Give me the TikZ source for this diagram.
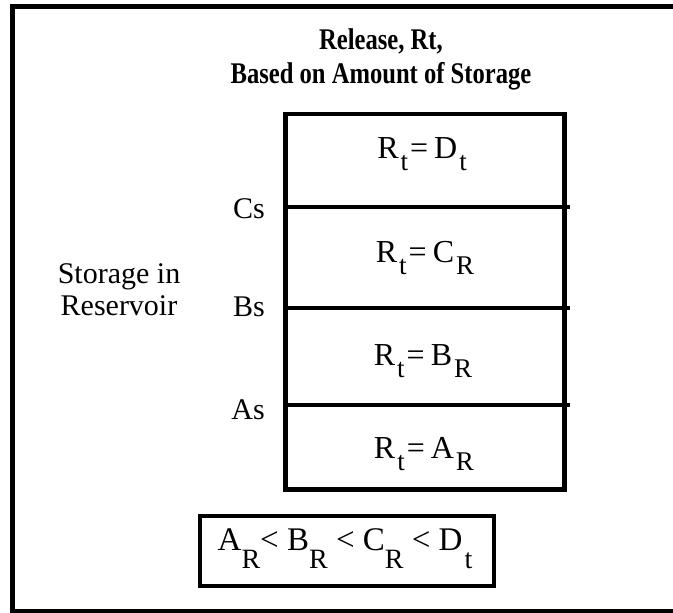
\documentclass[tikz,border=0pt]{standalone}
\usepackage{fontspec}
\setmainfont{Liberation Serif}
\newfontfamily\titlefont[FakeStretch=0.82]{Liberation Serif}
\newcommand{\lowsub}[1]{\kern2pt\raisebox{-12pt}{\fontsize{27}{27}\selectfont #1}}
\newcommand{\deepsub}[1]{\raisebox{-18pt}{\fontsize{28}{28}\selectfont #1}}
\tikzset{
  lvl/.style={anchor=base east, inner sep=0pt, font=\fontsize{30}{32}\selectfont},
  rel/.style={anchor=base, inner sep=0pt, font=\fontsize{32}{34}\selectfont},
  divline/.style={line width=4.5pt},
}

\begin{document}
\begin{tikzpicture}[x=1pt, y=-1pt]
    \useasboundingbox (0,0) rectangle (673,613);
    % Outer frame (right side falls off the page)
    \draw[line width=5pt] (680,6) -- (12,6) -- (12,611) -- (680,611);
    % Title
    \node[align=center, font=\titlefont\bfseries\fontsize{30}{34}\selectfont] (title) at (381,59) {Release, Rt,\\Based on Amount of Storage};
    % Storage column
    \node[draw, line width=4.5pt, minimum width=279pt, minimum height=375.5pt, inner sep=0pt] (store) at (425,301.75) {};
    \coordinate (cs) at (285.5,207);
    \coordinate (bs) at (285.5,308);
    \coordinate (as) at (285.5,405);
    \draw[divline] (cs) -- ++(284,0);
    \draw[divline] (bs) -- ++(284,0);
    \draw[divline] (as) -- ++(284,0);
    % Level labels
    \node[lvl] (cslbl) at (265,218) {Cs};
    \node[lvl] (bslbl) at (265,316) {Bs};
    \node[lvl] (aslbl) at (265,419) {As};
    \node[align=center, font=\fontsize{30}{32}\selectfont] (storlbl) at (119,290) {Storage in\\Reservoir};
    % Release in each zone
    \node[rel] (reld) at (422,158) {R\lowsub{t}\kern2pt=\kern6pt D\lowsub{t}};
    \node[rel] (relc) at (425,262) {R\lowsub{t}\kern2pt=\kern6pt C\lowsub{R}};
    \node[rel] (relb) at (423,365) {R\lowsub{t}\kern2pt=\kern6pt B\lowsub{R}};
    \node[rel] (rela) at (424,458) {R\lowsub{t}\kern2pt=\kern6pt A\lowsub{R}};
    % Ordering box
    \node[draw, line width=4pt, minimum width=294.5pt, minimum height=70pt, inner sep=0pt] (orderbox) at (347,550.5) {};
    \node[anchor=base, inner sep=0pt, font=\fontsize{33}{35}\selectfont] (order) at (345,550) {A\deepsub{R}< B\deepsub{R} < C\deepsub{R} < D\kern2pt\deepsub{t}};
\end{tikzpicture}
\end{document}
